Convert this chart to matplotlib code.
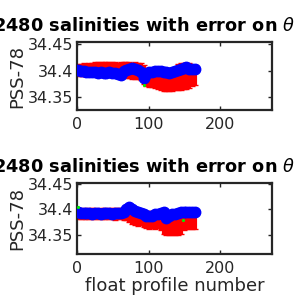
import matplotlib
matplotlib.use("Agg")
import matplotlib.pyplot as plt
import numpy as np

profiles = list(range(1, 166, 4))

# top panel
top_sal = [34.401, 34.400, 34.399, 34.398, 34.398, 34.397, 34.397, 34.396, 34.397, 34.396,
           34.395, 34.397, 34.396, 34.395, 34.394, 34.392, 34.399, 34.401, 34.404, 34.405,
           34.403, 34.401, 34.398, 34.386, 34.393, 34.397, 34.398, 34.399, 34.400, 34.400,
           34.398, 34.397, 34.396, 34.398, 34.399, 34.402, 34.404, 34.406, 34.407, 34.404,
           34.403, 34.403]
top_map = [34.401, 34.401, 34.402, 34.401, 34.402, 34.402, 34.403, 34.403, 34.404, 34.403,
           34.403, 34.404, 34.403, 34.403, 34.402, 34.403, 34.402, 34.401, 34.401, 34.400,
           34.400, 34.399, 34.399, 34.393, 34.388, 34.387, 34.388, 34.386, 34.384, 34.382,
           34.381, 34.381, 34.380, 34.381, 34.382, 34.388, 34.389, 34.390, 34.390, 34.391,
           34.391, 34.392]
top_err = [0.011, 0.011, 0.012, 0.011, 0.012, 0.012, 0.013, 0.013, 0.013, 0.013,
           0.013, 0.013, 0.013, 0.013, 0.013, 0.013, 0.014, 0.015, 0.015, 0.015,
           0.016, 0.015, 0.016, 0.018, 0.017, 0.018, 0.018, 0.018, 0.019, 0.019,
           0.020, 0.019, 0.019, 0.020, 0.019, 0.024, 0.025, 0.024, 0.024, 0.023,
           0.019, 0.018]
top_green_x = [93]
top_green_y = [34.374]

# bottom panel
bot_sal = [34.395, 34.393, 34.392, 34.392, 34.392, 34.391, 34.392, 34.392, 34.391, 34.392,
           34.392, 34.392, 34.391, 34.392, 34.393, 34.393, 34.394, 34.400, 34.405, 34.400,
           34.396, 34.394, 34.392, 34.390, 34.388, 34.387, 34.388, 34.390, 34.391, 34.393,
           34.394, 34.384, 34.388, 34.390, 34.391, 34.393, 34.394, 34.395, 34.395, 34.395,
           34.395, 34.394]
bot_map = [34.392, 34.391, 34.392, 34.391, 34.392, 34.392, 34.392, 34.391, 34.392, 34.392,
           34.391, 34.392, 34.392, 34.391, 34.392, 34.392, 34.391, 34.391, 34.389, 34.386,
           34.385, 34.384, 34.385, 34.381, 34.380, 34.379, 34.380, 34.378, 34.379, 34.377,
           34.372, 34.370, 34.369, 34.370, 34.371, 34.370, 34.372, 34.378, 34.379, 34.380,
           34.380, 34.379]
bot_err = [0.0105, 0.0105, 0.011, 0.0105, 0.011, 0.0105, 0.011, 0.0105, 0.011, 0.011,
           0.0105, 0.011, 0.0105, 0.011, 0.011, 0.0105, 0.011, 0.011, 0.013, 0.015,
           0.015, 0.016, 0.015, 0.016, 0.016, 0.017, 0.016, 0.016, 0.016, 0.017,
           0.020, 0.021, 0.020, 0.020, 0.021, 0.020, 0.020, 0.019, 0.018, 0.019,
           0.019, 0.018]
bot_green_x = [1, 148]
bot_green_y = [34.404, 34.380]

title_text = "3902480 salinities with error on $\\theta$ levels"
ylabel_text = "PSS-78"
xlabel_text = "float profile number"
xticks = [0, 100, 200]
yticks = [34.35, 34.40, 34.45]
ytick_labels = ["34.35", "34.4", "34.45"]

fig = plt.figure(figsize=(3, 3), dpi=100)
plt.rcParams['font.family'] = ['DejaVu Sans']
txt_col = "#262626"

panels = [
    ([0.257, 0.633, 0.650, 0.227], top_sal, top_map, top_err, top_green_x, top_green_y, (34.326, 34.454), False, 0.912),
    ([0.257, 0.153, 0.650, 0.237], bot_sal, bot_map, bot_err, bot_green_x, bot_green_y, (34.312, 34.452), True, 0.443),
]

for rect, sal, mp, err, gx, gy, ylim, show_xlabel, title_y in panels:
    ax = fig.add_axes(rect)
    ax.errorbar(profiles, mp, yerr=err, fmt='none', ecolor='red', elinewidth=3.0,
                capsize=2.5, capthick=1.0, zorder=2)
    ax.plot(profiles, sal, '-o', color='blue', lw=3.5, markersize=7.5,
            markerfacecolor='blue', markeredgecolor='blue', zorder=3)
    ax.plot(gx, gy, '.', color='#00ee00', markersize=2.5, zorder=4)
    ax.set_xlim(0, 273)
    ax.set_ylim(*ylim)
    ax.set_xticks(xticks)
    ax.set_yticks(yticks)
    ax.set_yticklabels(ytick_labels)
    ax.tick_params(direction='in', length=3, width=1, colors='#262626', labelsize=11.5,
                   labelcolor=txt_col, top=True, right=True)
    ax.tick_params(axis='x', pad=5)
    ax.tick_params(axis='y', pad=3)
    for s in ax.spines.values():
        s.set_linewidth(1.6)
        s.set_color('#262626')
    ax.set_ylabel(ylabel_text, fontsize=13, color=txt_col, labelpad=1)
    fig.text(-0.145, title_y, title_text, fontsize=12.8, fontweight='bold',
             color='black', ha='left', va='center')
    if show_xlabel:
        ax.set_xlabel(xlabel_text, fontsize=13, color=txt_col, labelpad=1)

fig.savefig("out.png", dpi=100)
